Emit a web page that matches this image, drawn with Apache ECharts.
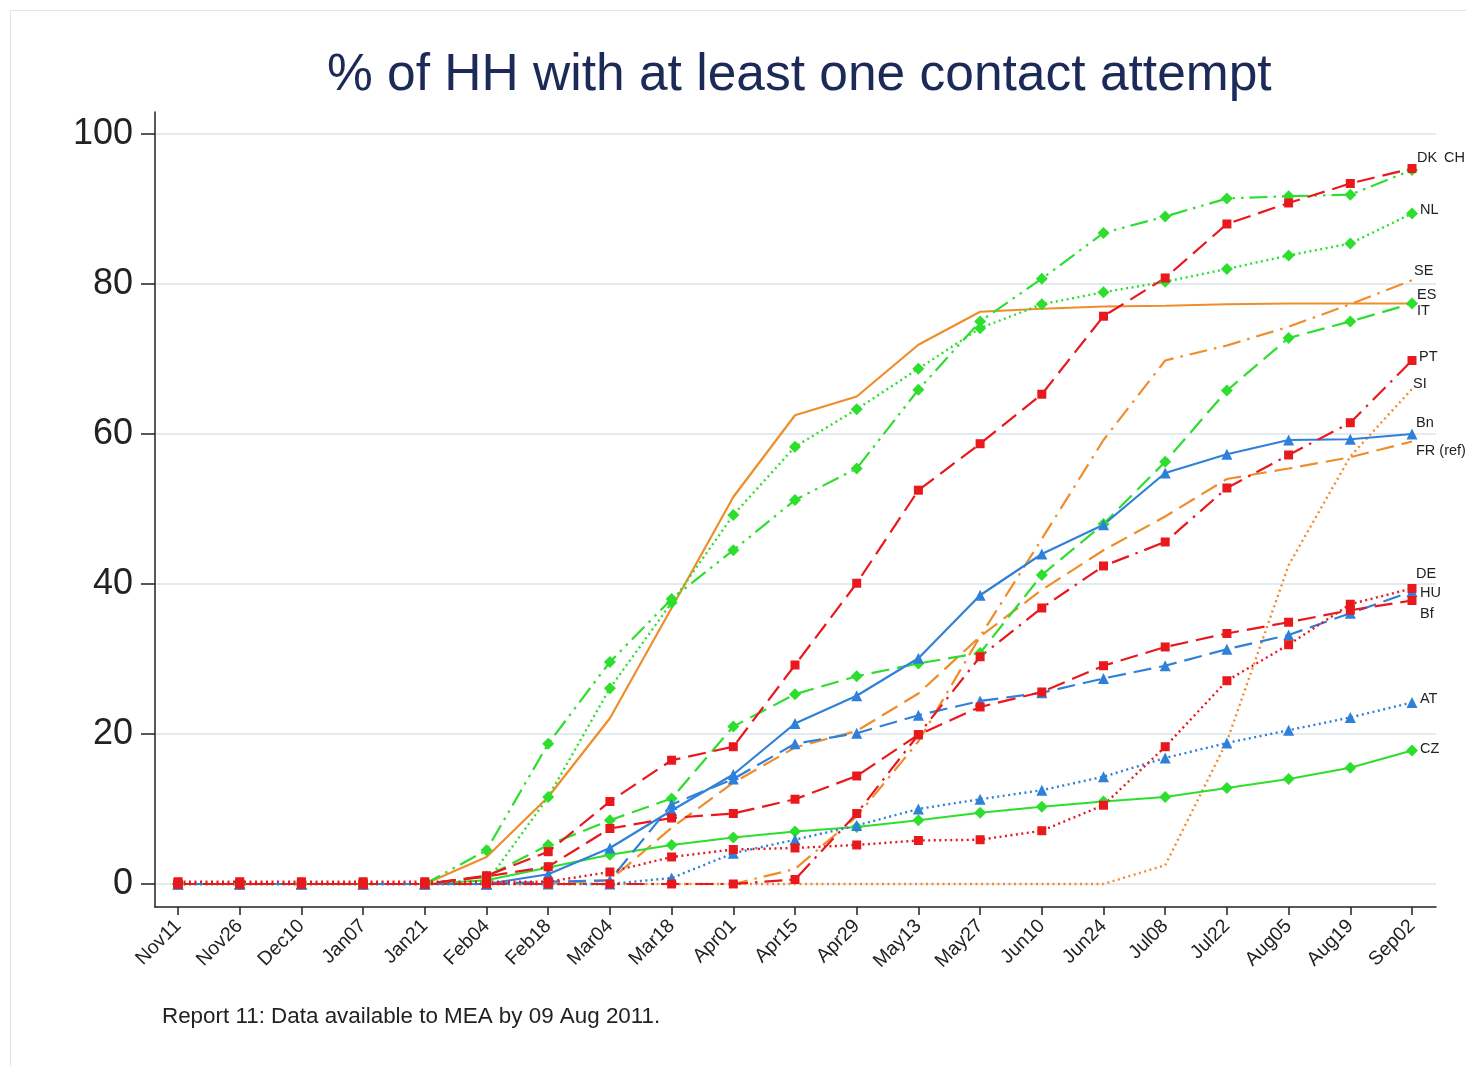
<!DOCTYPE html>
<html>
<head>
<meta charset="utf-8">
<script src="https://cdn.jsdelivr.net/npm/echarts@6/dist/echarts.min.js"></script>
<style>
  html, body { margin: 0; padding: 0; background: #fff; }
  #frame { position: absolute; left: 10px; top: 10px; width: 1456px; height: 1056px;
           border-left: 1px solid #dfe6ea; border-top: 1px solid #dfe6ea; pointer-events: none; }
  #chart { width: 1466px; height: 1066px; }
</style>
</head>
<body>
<div id="chart"></div>
<div id="frame"></div>
<script>
// ---- data ----
const categories = ['Nov11','Nov26','Dec10','Jan07','Jan21','Feb04','Feb18','Mar04','Mar18','Apr01',
  'Apr15','Apr29','May13','May27','Jun10','Jun24','Jul08','Jul22','Aug05','Aug19','Sep02'];
const yTicks = [0, 20, 40, 60, 80, 100];

const DK = [0,0,0,0,0, 1.1, 4.3, 11, 16.5, 18.3, 29.2, 40.1, 52.5, 58.7, 65.3, 75.7, 80.8, 88, 90.8, 93.4, 95.4];
const CH = [0,0,0,0,0, 4.5, 18.7, 29.6, 38, 44.5, 51.2, 55.4, 65.9, 75, 80.7, 86.8, 89, 91.4, 91.7, 91.9, 95.2];
const NL = [0,0,0,0,0, 0.2, 11.6, 26.1, 37.5, 49.2, 58.3, 63.3, 68.7, 74.1, 77.3, 78.9, 80.3, 82, 83.8, 85.4, 89.4];
const SE = [0,0,0,0,0, 0, 0, 0, 0, 0, 2, 9, 19, 33, 46, 59.2, 69.8, 71.8, 74.3, 77.3, 80.5];
const ES = [0,0,0,0,0, 3.6, 11.6, 22.1, 36.8, 51.6, 62.5, 65, 71.9, 76.3, 76.7, 77, 77.1, 77.3, 77.4, 77.4, 77.4];
const IT = [0,0,0,0,0, 1, 5.2, 8.5, 11.4, 21, 25.3, 27.7, 29.4, 30.8, 41.2, 48, 56.3, 65.8, 72.8, 75, 77.4];
const PT = [0,0,0,0,0, 0, 0, 0, 0, 0, 0.6, 9.4, 19.9, 30.3, 36.8, 42.4, 45.6, 52.8, 57.2, 61.5, 69.8];
const SI = [0,0,0,0,0, 0, 0, 0, 0, 0, 0, 0, 0, 0, 0, 0, 2.5, 19, 42.5, 57, 66];
const Bn = [0,0,0,0,0, 0, 1.3, 4.8, 9.8, 14.6, 21.4, 25.1, 30.1, 38.5, 44, 47.9, 54.8, 57.3, 59.2, 59.3, 60];
const FR = [0,0,0,0,0, 0, 0, 0.5, 7.5, 13.5, 18.2, 20.4, 25.4, 33, 39.2, 44.5, 49, 54, 55.4, 56.9, 59];
const DE = [0.3,0.3,0.3,0.3,0.3, 0.3, 0.3, 1.6, 3.6, 4.6, 4.8, 5.2, 5.8, 5.9, 7.1, 10.5, 18.3, 27.1, 31.9, 37.3, 39.4];
const HU = [0,0,0,0,0, 0, 0.3, 0.5, 10.6, 14, 18.7, 20.1, 22.5, 24.4, 25.5, 27.4, 29.1, 31.3, 33.2, 36.1, 39];
const Bf = [0,0,0,0,0, 1, 2.3, 7.4, 8.8, 9.4, 11.3, 14.4, 19.9, 23.6, 25.6, 29.1, 31.6, 33.4, 34.9, 36.5, 37.8];
const AT = [0,0,0,0,0, 0, 0, 0, 0.8, 4.1, 5.9, 7.8, 10, 11.3, 12.5, 14.3, 16.8, 18.8, 20.5, 22.2, 24.2];
const CZ = [0,0,0,0,0, 0.5, 2.2, 3.9, 5.2, 6.2, 7, 7.6, 8.5, 9.5, 10.3, 11, 11.6, 12.8, 14, 15.5, 17.8];

// ---- styles ----
const RED = '#e8181c', GREEN = '#2ede2e', BLUE = '#2f80d8', ORANGE = '#ef8d2b';
const DOT = [2, 3.5], LDASH = [18, 8], DASHDOT = [18, 7, 2.5, 7], DASHDOT2 = [18, 6, 2.5, 6, 2.5, 6];
const FONT = 'Liberation Sans, Arial, sans-serif';

const seriesDefs = [
  { name: 'FR (ref)', data: FR, color: ORANGE, dash: LDASH, symbol: 'none', lbl: [4, 10] },
  { name: 'SE', data: SE, color: ORANGE, dash: DASHDOT, symbol: 'none', lbl: [2, -9] },
  { name: 'ES', data: ES, color: ORANGE, dash: 'solid', symbol: 'none', lbl: [5, -8] },
  { name: 'SI', data: SI, color: ORANGE, dash: DOT, symbol: 'none', lbl: [1, -5] },
  { name: 'CZ', data: CZ, color: GREEN, dash: 'solid', symbol: 'diamond', lbl: [8, -1] },
  { name: 'IT', data: IT, color: GREEN, dash: LDASH, symbol: 'diamond', lbl: [5, 8] },
  { name: 'NL', data: NL, color: GREEN, dash: DOT, symbol: 'diamond', lbl: [8, -3] },
  { name: 'CH', data: CH, color: GREEN, dash: DASHDOT2, symbol: 'diamond', lbl: [32, -12] },
  { name: 'AT', data: AT, color: BLUE, dash: DOT, symbol: 'triangle', lbl: [8, -3] },
  { name: 'HU', data: HU, color: BLUE, dash: LDASH, symbol: 'triangle', lbl: [8, 2] },
  { name: 'Bn', data: Bn, color: BLUE, dash: 'solid', symbol: 'triangle', lbl: [4, -11] },
  { name: 'DE', data: DE, color: RED, dash: DOT, symbol: 'rect', lbl: [4, -14] },
  { name: 'Bf', data: Bf, color: RED, dash: LDASH, symbol: 'rect', lbl: [8, 14] },
  { name: 'PT', data: PT, color: RED, dash: DASHDOT, symbol: 'rect', lbl: [7, -3] },
  { name: 'DK', data: DK, color: RED, dash: LDASH, symbol: 'rect', lbl: [5, -10] }
];

const symSize = { rect: 9, diamond: 12, triangle: 11, none: 0 };

const series = seriesDefs.map(d => ({
  name: d.name,
  type: 'line',
  data: d.data.map((v, i) => [i, v]),
  symbol: d.symbol,
  symbolSize: symSize[d.symbol],
  showSymbol: d.symbol !== 'none',
  lineStyle: { color: d.color, width: d.dash === DOT ? 2.4 : 2.2, type: d.dash },
  itemStyle: { color: d.color },
  endLabel: {
    show: true, formatter: d.name, distance: 0, offset: d.lbl,
    fontFamily: FONT, fontSize: 14.5, color: '#222'
  },
  emphasis: { disabled: true },
  animation: false
}));

const chart = echarts.init(document.getElementById('chart'), null, { renderer: 'canvas' });
chart.setOption({
  backgroundColor: '#fff',
  animation: false,
  title: [
    { text: '% of HH with at least one contact attempt', left: 327, top: 50, padding: 0,
      textStyle: { fontFamily: FONT, fontSize: 51.5, fontWeight: 'normal', color: '#1c2a58' } },
    { text: 'Report 11: Data available to MEA by 09 Aug 2011.', left: 162, top: 1006, padding: 0,
      textStyle: { fontFamily: FONT, fontSize: 22.4, fontWeight: 'normal', color: '#222' } }
  ],
  grid: { left: 155, right: 30, top: 112, bottom: 159, containLabel: false },
  xAxis: {
    type: 'value', min: -0.373, max: 20.389,
    axisLine: { show: true, onZero: false, lineStyle: { color: '#222', width: 1.5 } },
    axisTick: { show: true, length: 8, customValues: categories.map((c, i) => i), lineStyle: { color: '#222', width: 1.5 } },
    axisLabel: {
      customValues: categories.map((c, i) => i), rotate: 45, margin: 16,
      formatter: v => categories[Math.round(v)],
      fontFamily: FONT, fontSize: 19.5, color: '#222'
    },
    splitLine: { show: false }
  },
  yAxis: {
    type: 'value', min: -3.07, max: 102.93,
    axisLine: { show: true, onZero: false, lineStyle: { color: '#222', width: 1.5 } },
    axisTick: { show: true, length: 14, customValues: yTicks, lineStyle: { color: '#222', width: 1.5 } },
    axisLabel: {
      customValues: yTicks, margin: 22,
      fontFamily: FONT, fontSize: 36, color: '#222'
    },
    splitLine: { show: true, lineStyle: { color: '#e3ebef', width: 2 } }
  },
  series: series
});
</script>
</body>
</html>
